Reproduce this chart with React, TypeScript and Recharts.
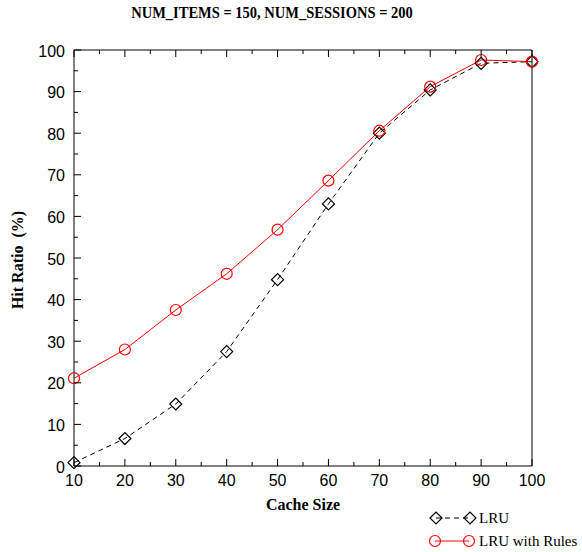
import React from 'react';
import { LineChart, Line, XAxis, YAxis } from 'recharts';

const cacheSizes = [10, 20, 30, 40, 50, 60, 70, 80, 90, 100];
const lruHitRatio = [0.8, 6.6, 14.9, 27.5, 44.8, 63.0, 80.0, 90.4, 96.8, 97.2];
const lruRulesHitRatio = [21.1, 28.0, 37.5, 46.2, 56.8, 68.6, 80.6, 91.2, 97.6, 97.2];

const xTicks = [10, 15, 20, 25, 30, 35, 40, 45, 50, 55, 60, 65, 70, 75, 80, 85, 90, 95, 100];
const yTicks = [0, 5, 10, 15, 20, 25, 30, 35, 40, 45, 50, 55, 60, 65, 70, 75, 80, 85, 90, 95, 100];

const data = cacheSizes.map((size, i) => ({
  size,
  lru: lruHitRatio[i],
  lruRules: lruRulesHitRatio[i],
}));

const SANS = '"Liberation Sans", Arial, sans-serif';
const SERIF = '"Liberation Serif", "Times New Roman", serif';
const MAJOR = 7;
const MINOR = 4;

// ticks point inward, like the gnuplot original
const BottomTick = (props: any) => {
  const { x, y, payload } = props;
  const major = payload.value % 10 === 0;
  return (
    <g>
      <line x1={x} x2={x} y1={y} y2={y - (major ? MAJOR : MINOR)} stroke="#000" />
      {major && (
        <text x={x} y={y + 20} textAnchor="middle" fontFamily={SANS} fontSize={16} fill="#000">
          {payload.value}
        </text>
      )}
    </g>
  );
};

const TopTick = (props: any) => {
  const { x, y, payload } = props;
  const major = payload.value % 10 === 0;
  return <line x1={x} x2={x} y1={y} y2={y + (major ? MAJOR : MINOR)} stroke="#000" />;
};

const LeftTick = (props: any) => {
  const { x, y, payload } = props;
  const major = payload.value % 10 === 0;
  return (
    <g>
      <line x1={x} x2={x + (major ? MAJOR : MINOR)} y1={y} y2={y} stroke="#000" />
      {major && (
        <text x={x - 9} y={y + 6.5} textAnchor="end" fontFamily={SANS} fontSize={16} fill="#000">
          {payload.value}
        </text>
      )}
    </g>
  );
};

const RightTick = (props: any) => {
  const { x, y, payload } = props;
  const major = payload.value % 10 === 0;
  return <line x1={x} x2={x - (major ? MAJOR : MINOR)} y1={y} y2={y} stroke="#000" />;
};

const Diamond = ({ cx, cy }: { cx: number; cy: number }) => (
  <path d={`M${cx - 6},${cy} L${cx},${cy - 6} L${cx + 6},${cy} L${cx},${cy + 6} Z`} fill="none" stroke="#000" strokeWidth={1.2} />
);

const Ring = ({ cx, cy }: { cx: number; cy: number }) => (
  <circle cx={cx} cy={cy} r={5.5} fill="none" stroke="#ff0000" strokeWidth={1.2} />
);

export default function App() {
  return (
    <div style={{ position: 'absolute', left: 0, top: 0, width: 582, height: 552, background: '#fff' }}>
      <div
        style={{
          position: 'absolute', left: 0, width: 544, top: 3, textAlign: 'center',
          fontFamily: SERIF, fontWeight: 'bold', fontSize: 14.5, lineHeight: '18px',
          transform: 'scaleY(1.15)',
        }}
      >
        NUM_ITEMS = 150, NUM_SESSIONS = 200
      </div>

      <LineChart width={582} height={552} data={data} margin={{ top: 40, right: 40, bottom: 56, left: 34 }}>
        <XAxis
          xAxisId="bottom" dataKey="size" type="number" domain={[10, 100]} ticks={xTicks} interval={0}
          height={30} tickSize={0} tickMargin={0} tickLine={false} tick={<BottomTick />}
          axisLine={{ stroke: '#000' }}
        />
        <XAxis
          xAxisId="top" orientation="top" dataKey="size" type="number" domain={[10, 100]} ticks={xTicks} interval={0}
          height={10} tickSize={0} tickMargin={0} tickLine={false} tick={<TopTick />}
          axisLine={{ stroke: '#000' }}
        />
        <YAxis
          yAxisId="left" type="number" domain={[0, 100]} ticks={yTicks} interval={0}
          width={40} tickSize={0} tickMargin={0} tickLine={false} tick={<LeftTick />}
          axisLine={{ stroke: '#000' }}
        />
        <YAxis
          yAxisId="right" orientation="right" type="number" domain={[0, 100]} ticks={yTicks} interval={0}
          width={10} tickSize={0} tickMargin={0} tickLine={false} tick={<RightTick />}
          axisLine={{ stroke: '#000' }}
        />
        <Line
          xAxisId="bottom" yAxisId="left" type="linear" dataKey="lru" stroke="#000" strokeWidth={1}
          strokeDasharray="5 4" dot={(p: any) => <Diamond key={`d${p.index}`} cx={p.cx} cy={p.cy} />}
          activeDot={false} isAnimationActive={false}
        />
        <Line
          xAxisId="bottom" yAxisId="left" type="linear" dataKey="lruRules" stroke="#ff0000" strokeWidth={1}
          dot={(p: any) => <Ring key={`r${p.index}`} cx={p.cx} cy={p.cy} />}
          activeDot={false} isAnimationActive={false}
        />
      </LineChart>

      <div style={{ position: 'absolute', left: 0, top: 260, width: 0, height: 0 }}>
        <div
          style={{
            position: 'absolute', left: 0, top: 0, transform: 'translate(-50%, -50%) rotate(-90deg) translateY(18px)',
            whiteSpace: 'nowrap', fontFamily: SERIF, fontWeight: 'bold', fontSize: 16,
          }}
        >
          Hit Ratio&nbsp;&nbsp;(%)
        </div>
      </div>

      <div
        style={{
          position: 'absolute', left: 74, width: 458, top: 496, textAlign: 'center',
          fontFamily: SERIF, fontWeight: 'bold', fontSize: 16, lineHeight: '18px',
        }}
      >
        Cache Size
      </div>

      <svg width={582} height={552} style={{ position: 'absolute', left: 0, top: 0, pointerEvents: 'none' }}>
        <line x1={436} x2={470} y1={518} y2={518} stroke="#000" strokeDasharray="5 4" />
        <Diamond cx={436} cy={518} />
        <Diamond cx={470} cy={518} />
        <text x={479} y={523} fontFamily={SERIF} fontSize={15} fill="#000">LRU</text>
        <line x1={435} x2={469} y1={541} y2={541} stroke="#ff0000" />
        <Ring cx={435} cy={541} />
        <Ring cx={469} cy={541} />
        <text x={479} y={546} fontFamily={SERIF} fontSize={15} fill="#000">LRU with Rules</text>
      </svg>
    </div>
  );
}
